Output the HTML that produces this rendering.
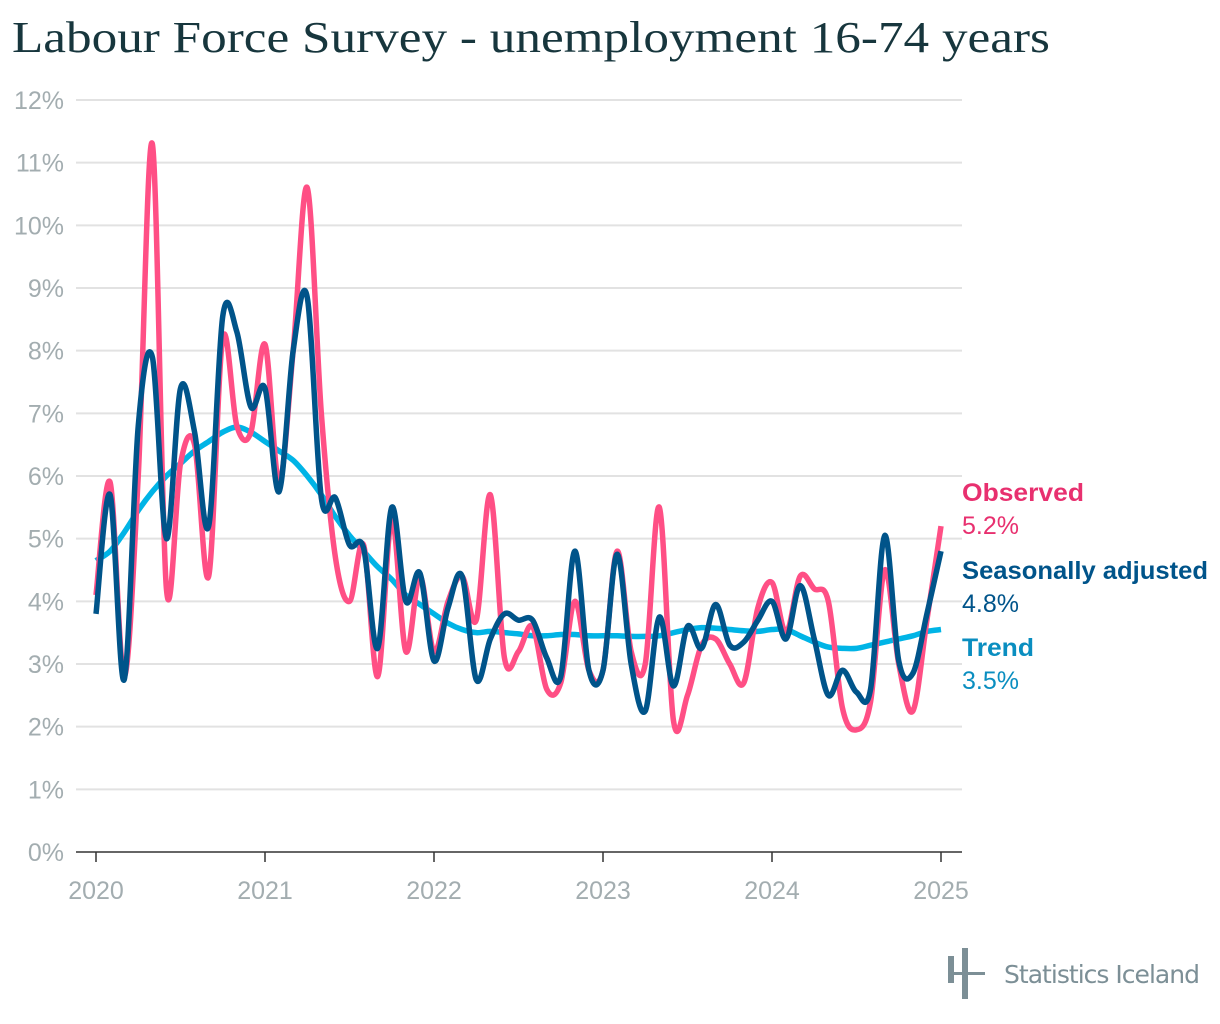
<!DOCTYPE html>
<html><head><meta charset="utf-8">
<style>
body{margin:0;background:#fff;width:1220px;height:1024px;overflow:hidden;font-family:"Liberation Sans",sans-serif;}
svg{position:absolute;left:0;top:0;}
</style></head>
<body>
<svg width="1220" height="80">
<text id="title" x="12" y="52" font-family="'Liberation Serif',serif" font-size="44" fill="#17363d" textLength="1038" lengthAdjust="spacingAndGlyphs">Labour Force Survey - unemployment 16-74 years</text>
</svg>
<svg id="chart" width="1220" height="1024"></svg>
<script>
const yTicks=[0,1,2,3,4,5,6,7,8,9,10,11,12];
const xYears=[2020,2021,2022,2023,2024,2025];
const observed=[4.1,5.9,2.8,6.0,11.3,4.2,6.2,6.5,4.4,8.2,6.8,6.7,8.1,5.9,8.0,10.6,7.0,4.7,4.0,4.9,2.8,5.3,3.2,4.4,3.2,4.0,4.4,3.7,5.7,3.1,3.2,3.6,2.6,2.7,4.0,2.9,2.9,4.8,3.2,3.0,5.5,2.1,2.5,3.3,3.4,3.0,2.7,3.9,4.3,3.5,4.4,4.2,4.0,2.3,1.95,2.4,4.5,3.0,2.25,3.7,5.2];
const seasonal=[3.8,5.7,2.75,6.8,7.9,5.0,7.4,6.7,5.2,8.55,8.3,7.1,7.4,5.75,8.0,8.85,5.65,5.65,4.9,4.85,3.25,5.5,4.0,4.45,3.05,3.9,4.4,2.75,3.4,3.8,3.7,3.7,3.1,2.8,4.8,2.9,2.9,4.75,3.0,2.25,3.75,2.65,3.6,3.25,3.95,3.3,3.35,3.7,4.0,3.4,4.25,3.4,2.5,2.9,2.55,2.6,5.05,3.05,2.85,3.8,4.8];
const trend=[4.65,4.8,5.1,5.45,5.75,6.0,6.2,6.4,6.55,6.7,6.78,6.7,6.55,6.4,6.25,6.0,5.7,5.35,5.05,4.8,4.55,4.35,4.1,3.95,3.8,3.65,3.55,3.5,3.52,3.5,3.48,3.45,3.45,3.47,3.47,3.45,3.45,3.45,3.44,3.44,3.45,3.5,3.55,3.58,3.57,3.55,3.53,3.52,3.55,3.55,3.45,3.35,3.27,3.25,3.25,3.3,3.35,3.4,3.45,3.52,3.55];

const NS="http://www.w3.org/2000/svg";
const svg=document.getElementById('chart');
const x0=96,x1=941,y0=852,y12=100;
const xs=i=>x0+(x1-x0)*i/60;
const ys=v=>y0-(y0-y12)*v/12;
function mk(t,a){const e=document.createElementNS(NS,t);for(const k in a)e.setAttribute(k,a[k]);svg.appendChild(e);return e;}
yTicks.forEach(t=>{
  const l=mk('line',{x1:76,x2:962,y1:ys(t),y2:ys(t),stroke:t===0?'#333':'#e2e2e2','stroke-width':t===0?1.5:2});
  
  
  const tx=mk('text',{x:64,y:ys(t)+9,'text-anchor':'end','font-size':25,fill:'#a3adb0'});
  tx.textContent=t+'%';
  
  
});
xYears.forEach((yr,k)=>{
  const x=xs(k*12);
  const l=mk('line',{x1:x,x2:x,y1:852,y2:862,stroke:'#333','stroke-width':1.5});
  
  
  const tx=mk('text',{x:x,y:899,'text-anchor':'middle','font-size':25,fill:'#a3adb0'});
  tx.textContent=yr;
  
  
});
function path(vals){
  const p=vals.map((v,i)=>[xs(i),ys(v)]);
  let d='M'+p[0][0]+','+p[0][1];
  for(let i=0;i<p.length-1;i++){
    const a=p[Math.max(0,i-1)],b=p[i],c=p[i+1],e=p[Math.min(p.length-1,i+2)];
    const c1=[b[0]+(c[0]-a[0])/6,b[1]+(c[1]-a[1])/6],c2=[c[0]-(e[0]-b[0])/6,c[1]-(e[1]-b[1])/6];
    d+=`C${c1[0]},${c1[1]} ${c2[0]},${c2[1]} ${c[0]},${c[1]}`;
  }
  return d;
}
const t=mk('path',{d:path(trend),fill:'none',stroke:'#00b4e6','stroke-width':5.5,'stroke-linejoin':'round'});


const o=mk('path',{d:path(observed),fill:'none',stroke:'#ff4f85','stroke-width':5.5,'stroke-linejoin':'round'});


const s=mk('path',{d:path(seasonal),fill:'none',stroke:'#00548a','stroke-width':5.5,'stroke-linejoin':'round'});


const labels=[['Observed',observed,'#e8306f',501,122],['Seasonally adjusted',seasonal,'#00548a',579,246],['Trend',trend,'#0a8ec0',656,72]];
labels.forEach(([n,vals,c,y,w])=>{
  const a=mk('text',{x:962,y:y,'font-size':25,'font-weight':'bold',fill:c,textLength:w,lengthAdjust:'spacingAndGlyphs'});
  a.textContent=n;
  
  
  const b=mk('text',{x:962,y:y+33,'font-size':25,fill:c});
  b.textContent=vals[vals.length-1].toFixed(1)+'%';
  
  
});
</script>
<svg width="1220" height="1024" style="pointer-events:none">
<g fill="#7c8f96"><rect x="948" y="956" width="6" height="27"/><rect x="962" y="948" width="6" height="51"/><rect x="948" y="972" width="37" height="3"/></g>
<text x="1004" y="983" font-size="25" fill="#7c8f96" font-family="'DejaVu Sans',sans-serif" textLength="196">Statistics Iceland</text>
</svg>
</body></html>
